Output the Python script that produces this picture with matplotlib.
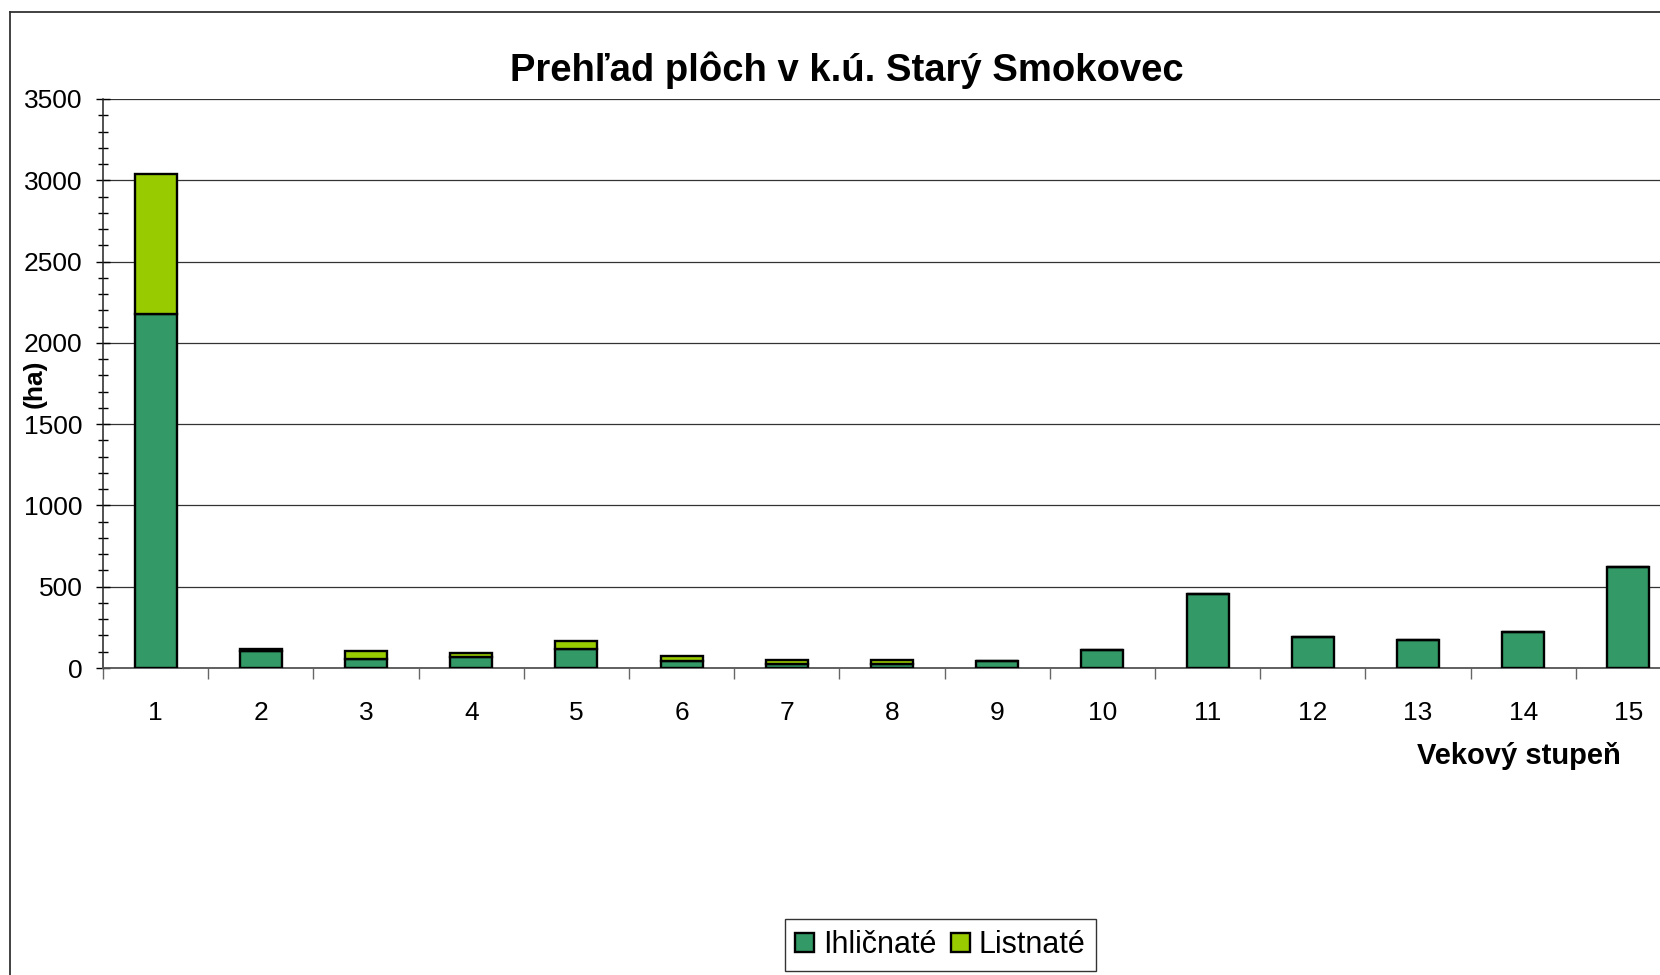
import numpy as np
import matplotlib
matplotlib.use("Agg")
import matplotlib.pyplot as plt
from matplotlib.lines import Line2D
from matplotlib.ticker import MultipleLocator, FixedLocator, NullFormatter

plt.rcParams['font.family'] = ['Liberation Sans', 'DejaVu Sans']

# plochy podla vekovych stupnov (ha)
stupne = [str(i) for i in range(1, 16)]
ihlicnate = [2177, 105, 57, 70, 117, 43, 27, 24, 45, 109, 455, 189, 174, 219, 619]
listnate = [861, 14, 50, 20, 47, 33, 20, 23, 0, 0, 0, 0, 0, 0, 0]

W, H = 1660, 975
fig = plt.figure(figsize=(W / 100, H / 100), dpi=100)

# plot area runs slightly past the right edge of the image
left, right, top, bottom = 103, 1681, 99, 668
ax = fig.add_axes([left / W, 1 - bottom / H, (right - left) / W, (bottom - top) / H])

x = np.arange(1, 16)
ax.bar(x, ihlicnate, width=0.4, color='#339966', edgecolor='black', linewidth=1.7,
       label='Ihličnaté', zorder=3)
ax.bar(x, listnate, width=0.4, bottom=ihlicnate, color='#99CC00', edgecolor='black',
       linewidth=1.7, label='Listnaté', zorder=3)

ax.set_xlim(0.5, 15.5)
ax.set_ylim(0, 3500)

ax.yaxis.set_major_locator(MultipleLocator(500))
ax.yaxis.set_minor_locator(MultipleLocator(100))
ax.tick_params(axis='y', which='major', direction='inout', length=9.5, width=1.0,
               labelsize=19, pad=10)
ax.tick_params(axis='y', which='minor', direction='inout', length=6.5, width=1.0)

# category boundaries get the tick marks, labels sit at the centres
ax.xaxis.set_major_locator(FixedLocator(np.arange(0.5, 16, 1)))
ax.xaxis.set_major_formatter(NullFormatter())
ax.xaxis.set_minor_locator(FixedLocator(x))
ax.set_xticklabels(stupne, minor=True)
ax.tick_params(axis='x', which='major', direction='out', length=8, width=1.0, color='#666666')
ax.tick_params(axis='x', which='minor', length=0, labelsize=19, pad=24)

ax.grid(axis='y', which='major', color='#333333', linewidth=0.9, zorder=0)
ax.spines['top'].set_visible(False)
ax.spines['right'].set_visible(False)
ax.spines['left'].set_color('#222222')
ax.spines['bottom'].set_color('#555555')
ax.spines['left'].set_linewidth(1.1)
ax.spines['bottom'].set_linewidth(1.3)

# outer chart frame (left and top edges)
fig.add_artist(Line2D([10 / W, 10 / W], [0, 1 - 12 / H], transform=fig.transFigure,
                      color='#333333', linewidth=1.3))
fig.add_artist(Line2D([10 / W, 1], [1 - 12 / H, 1 - 12 / H], transform=fig.transFigure,
                      color='#333333', linewidth=1.3))

fig.text(847 / W, 1 - 81 / H, 'Prehľad plôch v k.ú. Starý Smokovec', ha='center',
         va='baseline', fontsize=27.5, fontweight='bold')
fig.text(35 / W, 1 - 384 / H, '(ha)', rotation=90, ha='center', va='center',
         fontsize=19, fontweight='bold')
fig.text(1621 / W, 1 - 764 / H, 'Vekový stupeň', ha='right', va='baseline',
         fontsize=21, fontweight='bold')

leg = fig.legend(loc='center', bbox_to_anchor=((781 + 1100) / 2 / W, 1 - 945 / H),
                 ncol=2, fontsize=22, frameon=True, fancybox=False, edgecolor='black',
                 handlelength=0.6, handleheight=0.6, handletextpad=0.3,
                 columnspacing=0.5, borderpad=0.35)
leg.get_frame().set_linewidth(1.0)

fig.savefig('out.png', dpi=100)
